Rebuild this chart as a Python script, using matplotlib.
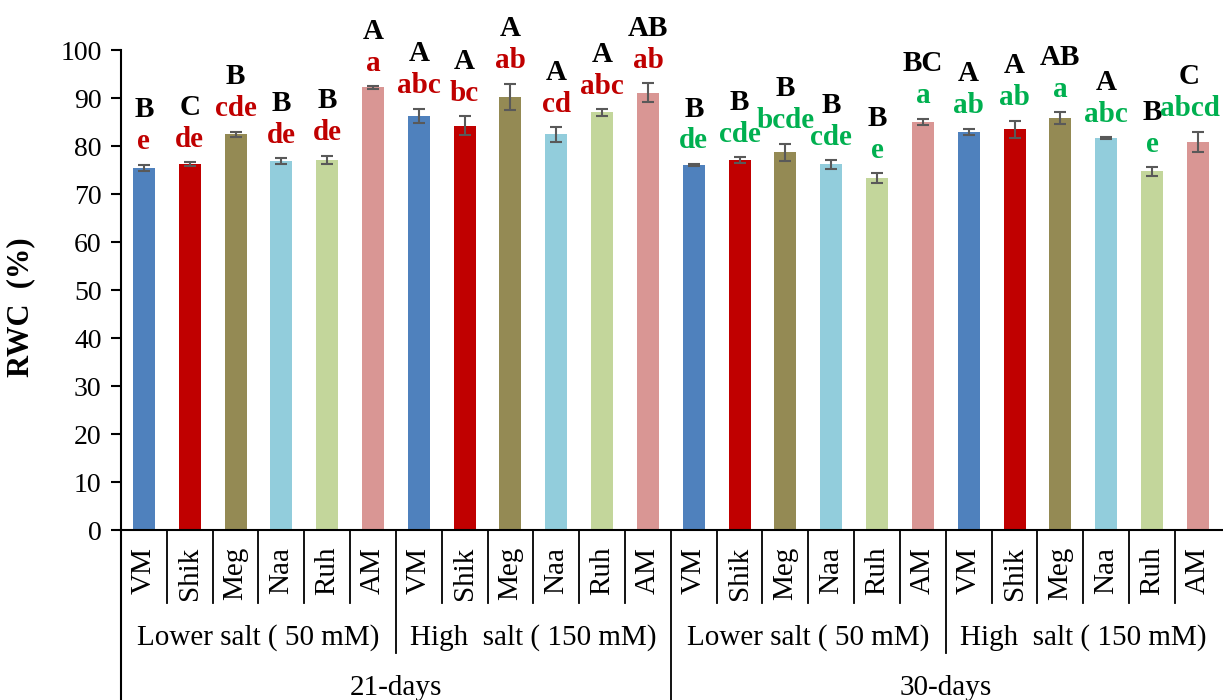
import matplotlib
matplotlib.use("Agg")
import matplotlib.pyplot as plt
import matplotlib.transforms as mtransforms
import numpy as np

# data
cultivars = ["VM", "Shik", "Meg", "Naa", "Ruh", "AM"]
salts = ["Lower salt ( 50 mM)", "High  salt ( 150 mM)"]
periods = ["21-days", "30-days"]

rwc_21_low = [75.4, 76.3, 82.4, 76.9, 77.1, 92.2]
err_21_low = [0.7, 0.4, 0.6, 0.6, 0.9, 0.3]
rwc_21_high = [86.3, 84.2, 90.3, 82.4, 87.0, 91.1]
err_21_high = [1.5, 2.0, 2.7, 1.5, 0.7, 2.0]
rwc_30_low = [76.1, 77.1, 78.7, 76.2, 73.3, 85.0]
err_30_low = [0.2, 0.6, 1.8, 0.9, 1.0, 0.7]
rwc_30_high = [82.9, 83.5, 85.8, 81.6, 74.7, 80.9]
err_30_high = [0.7, 1.8, 1.2, 0.2, 0.9, 2.1]

upper_21 = ["B", "C", "B", "B", "B", "A", "A", "A", "A", "A", "A", "AB"]
lower_21 = ["e", "de", "cde", "de", "de", "a", "abc", "bc", "ab", "cd", "abc", "ab"]
upper_30 = ["B", "B", "B", "B", "B", "BC", "A", "A", "AB", "A", "B", "C"]
lower_30 = ["de", "cde", "bcde", "cde", "e", "a", "ab", "ab", "a", "abc", "e", "abcd"]

bar_colors = ["#4F81BD", "#C00000", "#948A54", "#92CDDC", "#C3D69B", "#D99694"]

plt.rcParams["font.family"] = ["Liberation Serif", "DejaVu Serif"]

values = np.array(rwc_21_low + rwc_21_high + rwc_30_low + rwc_30_high)
errors = np.array(err_21_low + err_21_high + err_30_low + err_30_high)
uppers = upper_21 + upper_30
lowers = lower_21 + lower_30
names = cultivars * 4
colors = bar_colors * 4
x = np.arange(len(values))

fig = plt.figure(figsize=(12.23, 7), dpi=100)
ax = fig.add_axes([121 / 1223, 170 / 700, 1 - 121 / 1223, 480 / 700])

ax.bar(x, values, width=0.48, color=colors, zorder=2)
ax.errorbar(x, values, yerr=errors, fmt="none", ecolor="#595959",
            elinewidth=1.5, capsize=4, capthick=1.5, zorder=3)

ax.set_xlim(-0.5, 23.55)
ax.set_ylim(0, 100)
ax.set_yticks(np.arange(0, 101, 10))
ax.tick_params(axis="y", labelsize=20, length=7, width=1.5, pad=7, direction="out")
ax.set_xticks([])
for s in ["top", "right"]:
    ax.spines[s].set_visible(False)
ax.spines["left"].set_linewidth(1.5)
ax.spines["bottom"].set_linewidth(1.5)
ax.set_ylabel("RWC  (%)", fontsize=22, fontweight="bold")
ax.yaxis.set_label_coords(-0.078, 0.465)

# significance letters (last pair sits a bit left in the original, near the edge)
low_colors = ["#C00000"] * 12 + ["#00B050"] * 12
for xi, v, e, up, lo, lc in zip(x, values, errors, uppers, lowers, low_colors):
    top = v + e
    dx = -6 if xi == len(x) - 1 else 0
    ax.annotate(lo, (xi, top), xytext=(dx, 11), textcoords="offset points",
                ha="center", va="baseline", fontsize=21, fontweight="bold",
                color=lc, annotation_clip=False)
    ax.annotate(up, (xi, top), xytext=(dx, 34), textcoords="offset points",
                ha="center", va="baseline", fontsize=21, fontweight="bold",
                color="black", annotation_clip=False)

# multi-level category axis
trans = mtransforms.blended_transform_factory(ax.transData, ax.transAxes)
for xi, name in zip(x, names):
    ax.text(xi, -0.035, name, rotation=90, ha="center", va="top",
            fontsize=21, transform=trans)
for b in np.arange(0.5, 23.5, 1.0):
    k = int(b + 0.5)
    if k == 12:
        y_end = -0.45
    elif k % 6 == 0:
        y_end = -0.256
    else:
        y_end = -0.152
    ax.plot([b, b], [0, y_end], color="black", lw=1.3, transform=trans,
            clip_on=False)
ax.plot([-0.5, -0.5], [0, -0.45], color="black", lw=1.5, transform=trans,
        clip_on=False)

for i in range(4):
    ax.text(6 * i + 2.5, -0.225, salts[i % 2], ha="center", va="center",
            fontsize=21, transform=trans)
for i, p in enumerate(periods):
    ax.text(12 * i + 5.5, -0.33, p, ha="center", va="center",
            fontsize=21, transform=trans)

fig.savefig("out.png", dpi=100)
